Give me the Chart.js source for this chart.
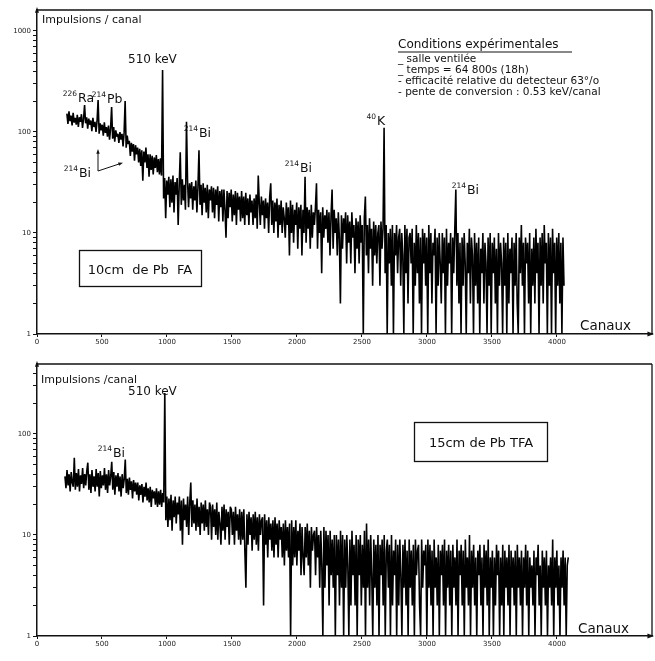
<!DOCTYPE html>
<html><head><meta charset="utf-8">
<script src="https://cdn.jsdelivr.net/npm/chart.js@4.4.1/dist/chart.umd.min.js"></script>
<style>
html,body{margin:0;padding:0;background:#fff;}
#wrap{position:relative;width:655px;height:661px;overflow:hidden;background:#fff;}
canvas{position:absolute;left:0;}
#c1{top:0;} #c2{top:350px;}
</style></head><body>
<div id="wrap"><canvas id="c1" width="655" height="350"></canvas><canvas id="c2" width="655" height="311"></canvas></div>
<script>
// ---------- DATA ----------
const channelTicks = [0, 500, 1000, 1500, 2000, 2500, 3000, 3500, 4000];
const logTicks = [1,2,3,4,5,6,7,8,9,10,20,30,40,50,60,70,80,90,100,200,300,400,500,600,700,800,900,1000];
const logTickLabels = [1, 10, 100, 1000];
const binWidth = 8;             // channels per plotted bin

// Upper spectrum : 10 cm de Pb FA (counts per bin)
const topFirstChannel = 230;
const topCounts = [
  152,120,160,128,145,116,155,124,138,118,
  148,112,140,126,150,110,134,185,122,140,
  108,136,118,130,102,138,112,126,100,128,
  207,96,122,104,118,92,125,98,112,90,
  116,84,108,177,86,112,80,104,90,96,
  78,100,84,96,72,98,203,70,92,76,
  82,58,78,64,76,52,74,60,70,50,
  68,46,66,33,64,50,70,44,60,36,
  60,42,58,38,56,44,59,40,54,38,
  55,37,411,22,35,14,33,24,36,18,
  34,20,37,16,32,24,35,12,30,63,
  19,34,21,30,17,126,33,18,31,22,
  32,17,29,21,33,16,28,66,19,30,
  15,31,20,28,16,30,14,27,21,29,
  16,28,14,27,19,29,13,26,18,27,
  13,27,17,9,26,14,25,18,27,13,
  24,15,26,12,25,17,23,13,26,14,
  23,12,25,15,22,12,24,16,21,12,
  22,14,24,11,37,20,12,23,15,21,
  11,22,14,20,10,23,31,12,21,10,
  20,13,22,9,19,12,21,10,18,14,
  9,20,12,18,6,21,10,19,8,17,
  12,20,7,18,11,19,6,17,10,36,
  8,18,11,17,7,19,9,16,12,18,
  31,7,17,10,16,4,18,9,15,11,
  17,8,16,6,15,27,7,17,10,14,
  6,16,9,2,15,7,14,10,16,5,
  15,8,13,5,16,9,12,4,14,7,
  13,5,15,8,12,1,14,23,6,12,
  4,14,7,11,3,13,6,12,5,10,
  12,3,13,7,11,110,4,12,1,10,
  5,11,3,12,1,10,6,12,4,9,
  11,3,10,6,1,12,4,11,2,9,
  10,5,11,1,8,3,12,4,10,2,
  9,1,11,5,10,3,9,1,12,4,
  10,2,8,6,11,1,9,3,10,5,
  2,10,4,9,1,11,3,8,5,10,
  1,9,4,11,27,3,10,2,8,1,
  9,3,10,5,1,8,4,11,2,9,
  6,1,10,3,8,2,9,1,7,4,
  10,2,8,5,1,9,3,10,1,8,
  4,9,2,7,1,10,3,8,5,1,
  9,3,8,1,10,2,7,4,9,1,
  8,3,10,2,1,9,4,12,3,8,
  1,9,5,8,2,10,1,7,3,9,
  2,11,4,8,1,9,3,10,2,12,
  5,8,1,10,3,9,1,11,4,8,
  1,9,3,10,2,8,1,9,3
];

// Lower spectrum : 15 cm de Pb TFA
const bottomFirstChannel = 215;
const bottomCounts = [
  38,29,44,31,40,27,42,33,30,58,
  28,41,30,45,27,39,32,46,29,40,
  31,43,52,28,40,26,44,30,38,27,
  45,30,41,24,43,29,39,31,46,28,
  40,26,44,31,38,53,28,42,25,39,
  30,41,27,38,24,40,29,36,56,26,
  36,25,37,28,34,23,35,27,33,25,
  33,22,31,25,32,21,30,24,33,22,
  29,21,30,19,28,23,27,20,29,19,
  27,20,28,19,26,21,255,14,24,12,
  23,14,25,11,22,15,24,13,21,16,
  24,11,22,8,23,14,20,12,24,10,
  21,33,12,22,13,20,11,23,12,19,
  10,21,13,20,11,22,12,18,10,21,
  19,9,20,12,18,10,21,9,17,13,
  8,19,11,20,9,18,12,17,8,19,
  18,10,17,8,19,11,16,9,18,8,
  17,9,18,7,3,16,8,17,10,15,
  7,16,9,17,8,15,7,16,10,14,
  15,2,16,8,14,6,15,9,13,7,
  14,6,15,8,13,6,14,9,12,6,
  13,5,14,7,12,6,13,1,14,5,
  12,6,14,5,11,7,13,4,12,6,
  4,12,6,13,5,11,3,12,7,10,
  11,4,12,6,10,3,11,5,1,12,
  3,11,5,10,2,11,4,9,3,10,
  1,10,4,9,2,11,3,10,1,9,
  3,10,5,1,9,2,11,4,8,2,
  10,1,9,4,10,2,8,3,11,1,
  13,3,9,2,10,4,1,9,3,8,
  2,10,1,8,4,9,2,10,1,7,
  9,3,8,1,10,2,7,4,9,1,
  8,2,9,4,1,8,3,9,2,7,
  1,9,3,7,2,8,1,9,4,7,
  8,2,1,9,3,7,5,8,1,9,
  3,8,2,7,1,9,3,6,2,8,
  1,7,4,8,2,9,1,7,3,8,
  2,7,1,8,3,6,2,9,1,7,
  4,8,2,7,1,9,3,6,2,10,
  1,7,3,8,2,6,1,7,4,8,
  2,6,1,8,3,7,2,9,1,6,
  3,7,1,6,2,8,4,7,1,6,
  2,8,1,7,3,6,2,8,1,7,
  3,6,2,7,1,8,3,6,2,7,
  1,6,3,8,2,7,1,6,3,5,
  2,7,1,6,4,8,2,5,1,7,
  3,6,2,7,1,5,3,6,2,9,
  1,6,3,7,2,5,1,6,3,7,
  2,6,1,5,6
];

// ---------- DRAWING HELPERS ----------
const INK = '#111';
const FONT = '"DejaVu Sans", "Liberation Sans", sans-serif';
function txt(ctx, s, x, y, size, align) {
  ctx.font = size + 'px ' + FONT;
  ctx.textAlign = align || 'left';
  ctx.textBaseline = 'alphabetic';
  ctx.fillStyle = INK;
  ctx.fillText(s, x, y);
}
function iso(ctx, mass, sym, x, y) {
  txt(ctx, mass, x - 1, y - 6, 7.5, 'right');
  txt(ctx, sym, x, y, 12.5, 'left');
}
function line(ctx, x1, y1, x2, y2, w) {
  ctx.beginPath(); ctx.lineWidth = w || 1.2; ctx.strokeStyle = INK;
  ctx.moveTo(x1, y1); ctx.lineTo(x2, y2); ctx.stroke();
}
function arrowHead(ctx, x, y, ang, len) {
  len = len || 6;
  ctx.beginPath(); ctx.fillStyle = INK;
  ctx.moveTo(x, y);
  ctx.lineTo(x - len * Math.cos(ang - 0.35), y - len * Math.sin(ang - 0.35));
  ctx.lineTo(x - len * Math.cos(ang + 0.35), y - len * Math.sin(ang + 0.35));
  ctx.closePath(); ctx.fill();
}
function frame(ctx, ca) {
  line(ctx, ca.left, ca.top, ca.right, ca.top, 1.3);
  line(ctx, ca.right, ca.top, ca.right, ca.bottom, 1.3);
  arrowHead(ctx, ca.left, ca.top - 3, -Math.PI / 2, 6);
  arrowHead(ctx, ca.right + 2, ca.bottom, 0, 7);
}

const annotTop = {
  id: 'annotTop',
  afterDraw(chart) {
    const ctx = chart.ctx, ca = chart.chartArea;
    ctx.save();
    frame(ctx, ca);
    txt(ctx, 'Impulsions / canal', 42, 23, 11);
    txt(ctx, '510 keV', 128, 63, 12);
    iso(ctx, '226', 'Ra', 78, 102);
    iso(ctx, '214', 'Pb', 107, 103);
    iso(ctx, '214', 'Bi', 199, 137);
    iso(ctx, '214', 'Bi', 79, 177);
    iso(ctx, '214', 'Bi', 300, 172);
    iso(ctx, '40', 'K', 377, 125);
    iso(ctx, '214', 'Bi', 467, 194);
    // arrow of the 214Bi label
    line(ctx, 98, 171, 98, 153, 1);
    arrowHead(ctx, 98, 149, -Math.PI / 2, 5);
    line(ctx, 98, 171, 119, 164, 1);
    arrowHead(ctx, 123, 162.7, Math.atan2(-7, 21), 5);
    // conditions
    txt(ctx, 'Conditions expérimentales', 398, 48, 12);
    line(ctx, 398, 52, 572, 52, 1);
    txt(ctx, '_ salle ventilée', 398, 62, 10.5);
    txt(ctx, '_ temps = 64 800s (18h)', 398, 73, 10.5);
    txt(ctx, '- efficacité relative du detecteur 63°/o', 398, 84, 10.5);
    txt(ctx, '- pente de conversion : 0.53 keV/canal', 398, 95, 10.5);
    // box
    ctx.lineWidth = 1.3; ctx.strokeStyle = INK;
    ctx.strokeRect(79.5, 250.5, 122, 36);
    txt(ctx, '10cm  de Pb  FA', 140, 274, 13, 'center');
    txt(ctx, 'Canaux', 580, 330, 13.5);
    ctx.restore();
  }
};

const annotBottom = {
  id: 'annotBottom',
  afterDraw(chart) {
    const ctx = chart.ctx, ca = chart.chartArea;
    ctx.save();
    frame(ctx, ca);
    txt(ctx, 'Impulsions /canal', 41, 33, 11);
    txt(ctx, '510 keV', 128, 45, 12);
    iso(ctx, '214', 'Bi', 113, 107);
    ctx.lineWidth = 1.3; ctx.strokeStyle = INK;
    ctx.strokeRect(414.5, 72.5, 133, 39);
    txt(ctx, '15cm de Pb TFA', 481, 97, 13, 'center');
    txt(ctx, 'Canaux', 578, 283, 13.5);
    ctx.restore();
  }
};

function makeChart(canvas, firstChannel, counts, yMax, padTop, xAxisHeight, plugin) {
  const pts = counts.map((c, i) => ({ x: firstChannel + i * binWidth, y: c }));
  return new Chart(canvas, {
    type: 'line',
    data: { datasets: [{
      data: pts, borderColor: '#000', borderWidth: 1.6, pointRadius: 0,
      tension: 0, fill: false, borderJoinStyle: 'bevel'
    }]},
    options: {
      responsive: false, animation: false, events: [],
      parsing: false, normalized: true,
      layout: { padding: { top: padTop, right: 3, left: 0, bottom: 0 } },
      plugins: { legend: { display: false }, tooltip: { enabled: false }, title: { display: false } },
      scales: {
        x: {
          type: 'linear', min: 0, max: 4731,
          afterBuildTicks: s => { s.ticks = channelTicks.map(v => ({ value: v })); },
          afterFit: s => { s.height = xAxisHeight; },
          ticks: { font: { size: 7, family: FONT }, color: '#222', padding: 1, maxRotation: 0, autoSkip: false,
                   callback: v => String(v) },
          grid: { drawOnChartArea: false, tickLength: 3, color: INK, lineWidth: 1 },
          border: { color: INK, width: 1.5 }
        },
        y: {
          type: 'logarithmic', min: 1, max: yMax,
          afterBuildTicks: s => { s.ticks = logTicks.filter(v => v <= yMax).map(v => ({ value: v })); },
          afterFit: s => { s.width = 37; },
          ticks: { font: { size: 7, family: FONT }, color: '#222', padding: 2, autoSkip: false,
                   callback: v => logTickLabels.includes(v) ? String(v) : '' },
          grid: { drawOnChartArea: false, tickLength: 4, color: INK, lineWidth: 1 },
          border: { color: INK, width: 1.5 }
        }
      }
    },
    plugins: [plugin]
  });
}

makeChart(document.getElementById('c1'), topFirstChannel, topCounts, 1614, 10, 16, annotTop);
makeChart(document.getElementById('c2'), bottomFirstChannel, bottomCounts, 493, 14, 25, annotBottom);
</script>
</body></html>
